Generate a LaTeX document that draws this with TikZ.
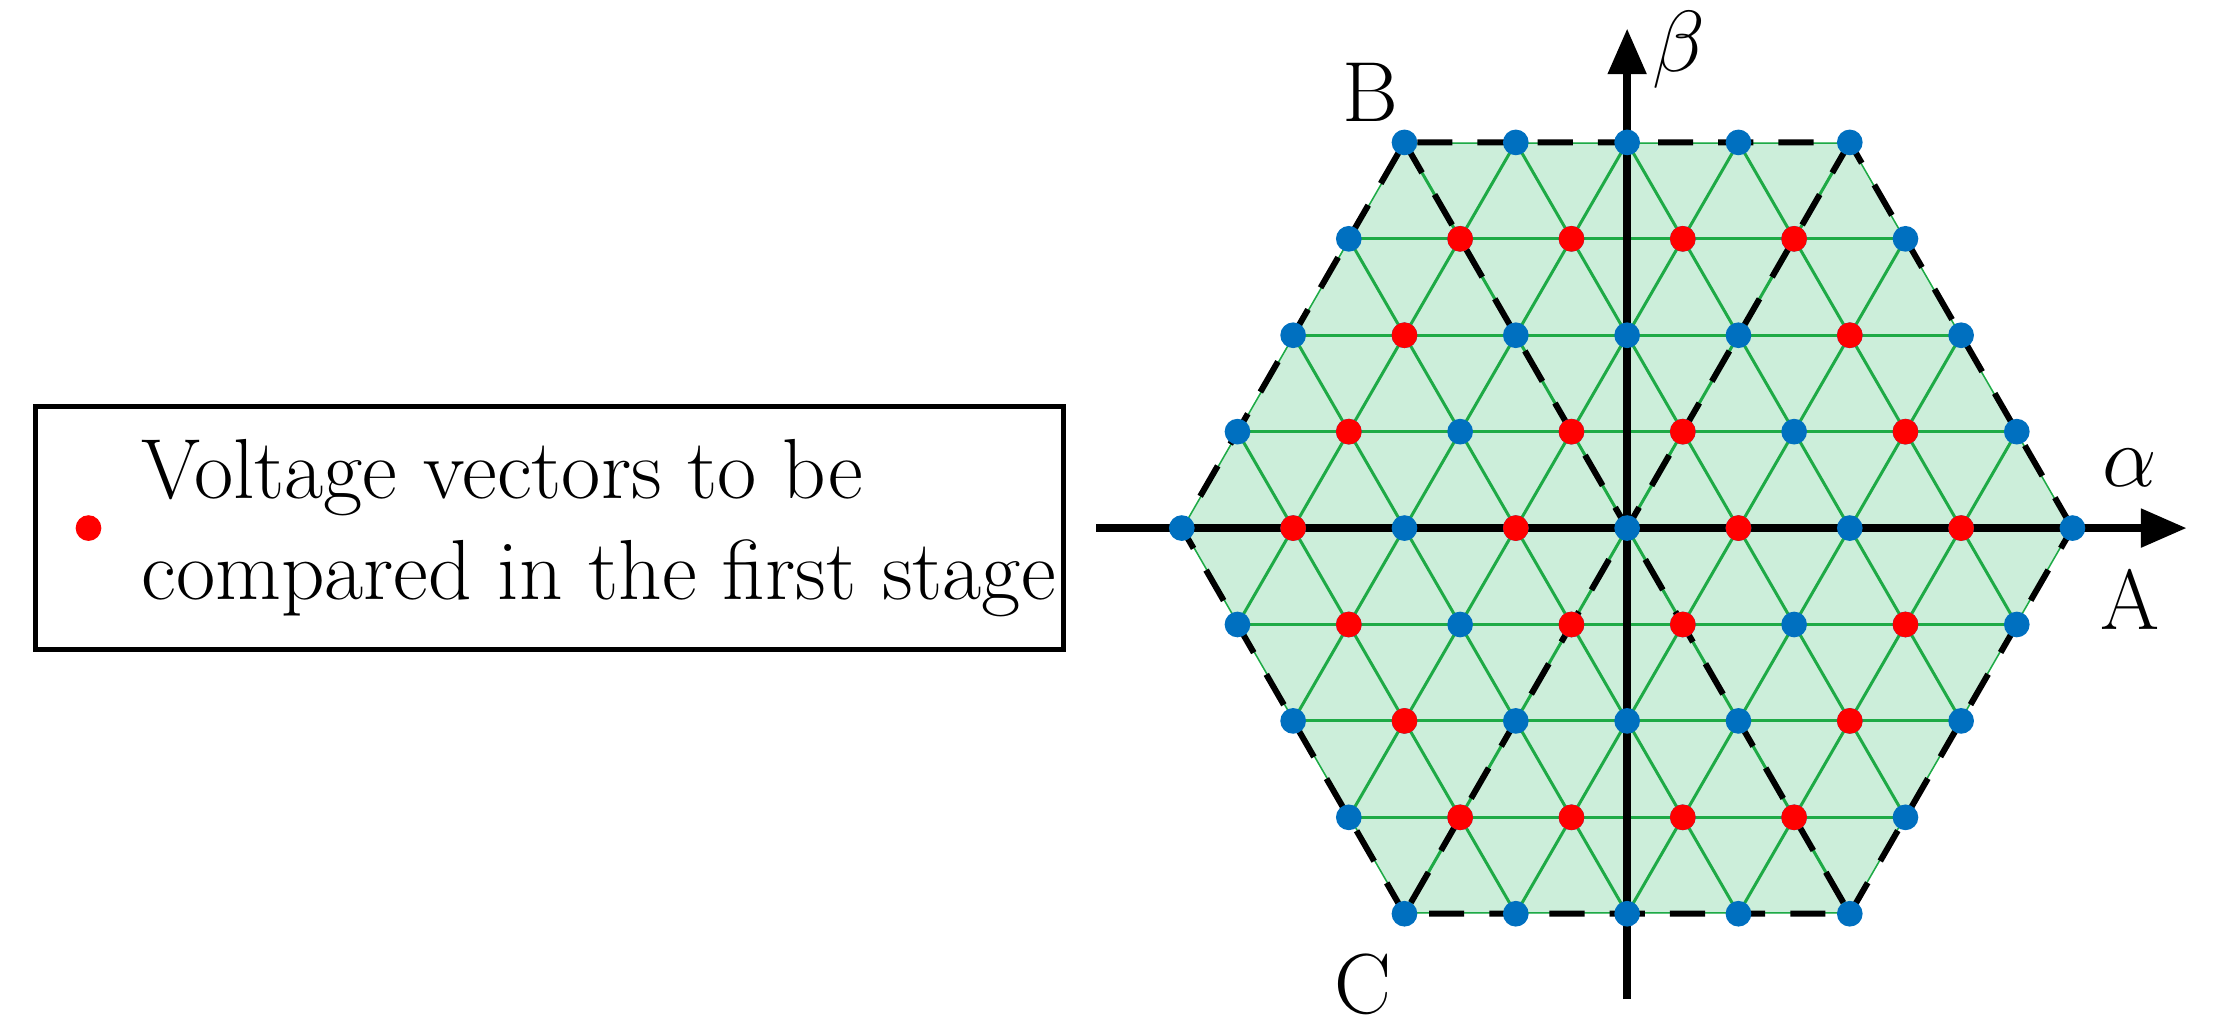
\documentclass[tikz,border=0pt]{standalone}
\usetikzlibrary{arrows.meta, positioning}
\definecolor{vecblue}{RGB}{0,112,192}
\definecolor{vecred}{RGB}{255,0,0}
\definecolor{gridgreen}{RGB}{30,170,70}
\definecolor{hexfill}{RGB}{204,238,218}
\begin{document}
\begin{tikzpicture}[
        > = {Triangle[length=0.32cm, width=0.26cm]}, % axis arrow head
        axis/.style = {line width=1.6pt, ->},
        grid/.style = {gridgreen, line width=0.6pt},
        border/.style = {black, line width=1.2pt, dash pattern=on 7pt off 5pt},
        blue dot/.style = {circle, fill=vecblue, inner sep=0pt, minimum size=0.18cm},
        red dot/.style = {circle, fill=vecred, inner sep=0pt, minimum size=0.18cm},
        label/.style = {font=\fontsize{17}{20}\selectfont}
    ]
    \useasboundingbox (0,0) rectangle (15.68,7.20);

    % hexagonal lattice, axial coordinates
    \begin{scope}[shift={(11.40,3.50)}, x={(0.78cm,0cm)}, y={(0.39cm,0.6755cm)}]
        \coordinate (hA) at (4,0);
        \coordinate (hB) at (-4,4);
        \coordinate (hC) at (0,-4);
        \fill[hexfill] (4,0) -- (0,4) -- (-4,4) -- (-4,0) -- (0,-4) -- (4,-4) -- cycle;
        \begin{scope}
            \clip (4,0) -- (0,4) -- (-4,4) -- (-4,0) -- (0,-4) -- (4,-4) -- cycle;
            \foreach \k in {-4,...,4} {
                \draw[grid] (-8,\k) -- (8,\k);
                \draw[grid] (\k,-8) -- (\k,8);
                \draw[grid] (\k+8,-8) -- (\k-8,8);
            }
        \end{scope}
        \draw[border] (4,0) -- (0,4) -- (-4,4) -- (-4,0) -- (0,-4) -- (4,-4) -- cycle;
        \draw[border] (hB) -- (4,-4);
        \draw[border] (0,4) -- (hC);
    \end{scope}

    % axes
    \coordinate (o) at (11.40,3.50);
    \coordinate (xl) at (7.68,3.50);
    \coordinate (xr) at (15.32,3.50);
    \coordinate (yb) at (11.40,0.20);
    \coordinate (yt) at (11.40,7.00);
    \draw[axis] (xl) -- (xr);
    \draw[axis] (yb) -- (yt);

    % voltage vectors
    \begin{scope}[shift={(11.40,3.50)}, x={(0.78cm,0cm)}, y={(0.39cm,0.6755cm)}]
        \foreach \b in {-4,...,4} {
            \foreach \a in {-4,...,4} {
                \pgfmathtruncatemacro\s{abs(\a+\b)}
                \ifnum\s<5
                    \node[blue dot] (v\a\b) at (\a,\b) {};
                \fi
            }
        }
        \foreach \a/\b in {-3/3,-2/3,-1/3,0/3, -3/2,1/2, -3/1,-1/1,0/1,2/1,
                           -3/0,-1/0,1/0,3/0, -2/-1,0/-1,1/-1,3/-1, -1/-2,3/-2,
                           0/-3,1/-3,2/-3,3/-3}
            \node[red dot] at (\a,\b) {};
    \end{scope}

    % axis and vertex labels
    \node[label] (beta) at (11.76,6.85) {$\beta$};
    \node[label] (alpha) at (14.92,3.92) {$\alpha$};
    \node[label] (lA) at (14.92,3.00) {A};
    \node[label] (lB) at (9.60,6.55) {B};
    \node[label] (lC) at (9.55,0.30) {C};

    % legend
    \draw[line width=1pt] (0.25,2.65) rectangle (7.45,4.35);
    \node[red dot] (key) at (0.62,3.50) {};
    \node[label, right=0.15cm of key, align=left] (keytext)
        {Voltage vectors to be\\compared in the first stage};
\end{tikzpicture}
\end{document}
